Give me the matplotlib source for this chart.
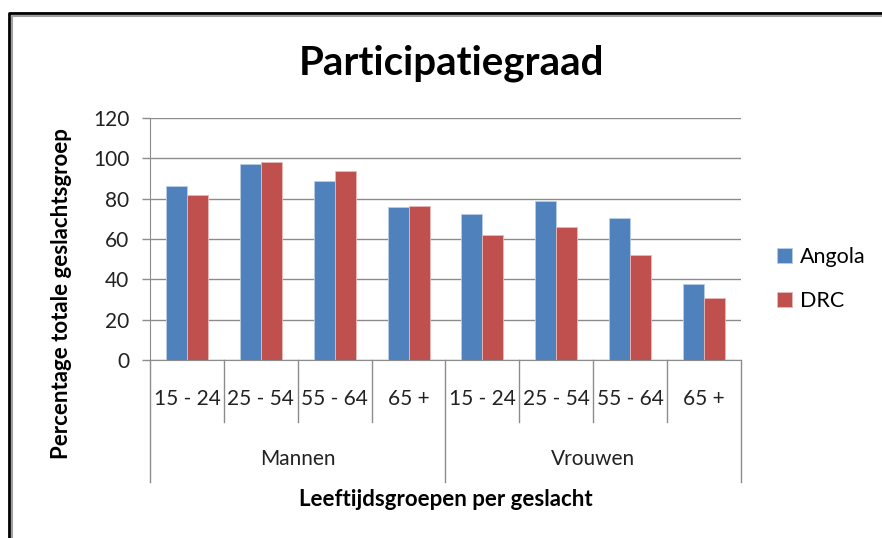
import numpy as np
import matplotlib
matplotlib.use("Agg")
import matplotlib.pyplot as plt
from matplotlib.lines import Line2D

plt.rcParams['font.family'] = ['Lato', 'DejaVu Sans']

# data
age_groups = ['15 - 24', '25 - 54', '55 - 64', '65 +', '15 - 24', '25 - 54', '55 - 64', '65 +']
genders = ['Mannen', 'Vrouwen']
angola = [86.4, 97.0, 88.9, 75.8, 72.4, 78.8, 70.2, 37.6]
drc = [81.6, 98.2, 93.5, 76.5, 61.9, 66.1, 52.0, 30.5]

blue = '#4F81BD'
red = '#C0504D'
grid_col = '#8c8c8c'

W, H = 882, 538
fig = plt.figure(figsize=(W / 100, H / 100), dpi=100)
ax = fig.add_axes([150 / W, 1 - 360 / H, (741 - 150) / W, (360 - 118) / H])

x = np.arange(len(age_groups))
bw = 0.285
ax.bar(x - bw / 2, angola, bw, color=blue, edgecolor='#b9cde5', linewidth=0.6, label='Angola', zorder=3)
ax.bar(x + bw / 2, drc, bw, color=red, edgecolor='#e6b9b8', linewidth=0.6, label='DRC', zorder=3)

ax.set_xlim(-0.5, len(age_groups) - 0.5)
ax.set_ylim(0, 120)
ax.set_yticks(range(0, 121, 20))
ax.yaxis.grid(True, color=grid_col, linewidth=1.0, zorder=0)
ax.set_xticks([])
for s in ['top', 'right']:
    ax.spines[s].set_visible(False)
ax.spines['left'].set_color(grid_col)
ax.spines['bottom'].set_color(grid_col)
ax.tick_params(axis='y', length=6, width=1, color=grid_col, pad=9, labelsize=15, labelcolor='#222222')

# hierarchical x axis
trans = ax.get_xaxis_transform()
ah = 360 - 118
inner = -(422 - 360) / ah
outer = -(482 - 360) / ah
n = len(age_groups)
for i in range(n + 1):
    b = i - 0.5
    low = outer if i % 4 == 0 else inner
    ax.add_line(Line2D([b, b], [0, low], transform=trans, color=grid_col, linewidth=1.0, clip_on=False))
for i, lab in enumerate(age_groups):
    ax.text(i, -(399 - 360) / ah, lab, transform=trans, ha='center', va='center', fontsize=15, color='#222222')
for j, g in enumerate(genders):
    ax.text(j * 4 + 1.5, -(459 - 360) / ah, g, transform=trans, ha='center', va='center', fontsize=15, color='#222222')

fig.text(446 / W, 1 - 499 / H, 'Leeftijdsgroepen per geslacht', ha='center', va='center', fontsize=16, fontweight='bold')
fig.text(62 / W, 1 - 294 / H, 'Percentage totale geslachtsgroep', ha='center', va='center', rotation=90, fontsize=16, fontweight='bold')
fig.text(451 / W, 1 - 63 / H, 'Participatiegraad', ha='center', va='center', fontsize=29, fontweight='bold')

ax.legend(loc='center left', bbox_to_anchor=(758 / W, 1 - 279 / H), bbox_transform=fig.transFigure,
          frameon=False, fontsize=15.5, handlelength=0.7, handleheight=0.7, handletextpad=0.35, labelspacing=1.15)

# outer frame like the screenshot
fig.add_artist(Line2D([9 / W, 9 / W, 1], [0, 1 - 13 / H, 1 - 13 / H], transform=fig.transFigure, color='black', linewidth=2))
fig.add_artist(Line2D([12 / W, 12 / W, 1], [0, 1 - 16 / H, 1 - 16 / H], transform=fig.transFigure, color='#a0a0a0', linewidth=1.5))

fig.savefig('out.png', dpi=100)
